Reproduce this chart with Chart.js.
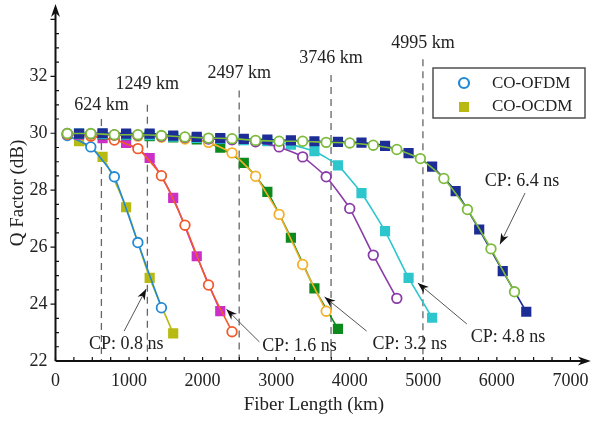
<!DOCTYPE html>
<html>
<head>
<meta charset="utf-8">
<script src="https://cdn.jsdelivr.net/npm/chart.js@4.4.0/dist/chart.umd.min.js"></script>
<style>
body{margin:0;background:#fff;}
#wrap{width:596px;height:421px;}
</style>
</head>
<body>
<div id="wrap"><canvas id="qChart" width="596" height="421"></canvas></div>
<script>
// fiber length of each measured point (km)
var xOfdm=[160,480,800,1120,1440,1760,2080,2400,2720,3040,3360,3680,4000,4320,4640,4960,5280,5600,5920,6240];
var xOcdm=[320,640,960,1280,1600,1920,2240,2560,2880,3200,3520,3840,4160,4480,4800,5120,5440,5760,6080,6400];

// Q factor (dB) per cyclic prefix
var ofdm08=[29.92,29.52,28.47,26.16,23.87];
var ocdm08=[29.72,29.17,27.40,24.92,22.97];
var ofdm16=[29.96,29.90,29.76,29.46,28.51,26.77,24.67,23.03];
var ocdm16=[29.95,29.83,29.66,29.13,27.73,25.68,23.75];
var ofdm32=[29.98,29.96,29.93,29.90,29.86,29.80,29.68,29.31,28.49,27.15,25.39,23.75];
var ocdm32=[29.98,29.96,29.93,29.90,29.85,29.78,29.49,28.96,27.94,26.33,24.55,23.13];
var ofdm48=[29.99,29.98,29.94,29.93,29.90,29.85,29.80,29.77,29.70,29.52,29.17,28.47,27.36,25.72,24.20];
var ocdm48=[29.99,29.98,29.95,29.93,29.88,29.84,29.80,29.76,29.72,29.60,29.37,28.87,27.90,26.56,24.92,23.52];
var ofdm64=[29.99,29.99,29.95,29.95,29.92,29.87,29.83,29.81,29.75,29.72,29.72,29.68,29.66,29.58,29.43,29.11,28.41,27.32,25.94,24.43];
var ocdm64=[29.99,30.00,29.99,29.99,29.92,29.87,29.83,29.80,29.78,29.75,29.72,29.70,29.67,29.56,29.30,28.83,27.97,26.62,25.16,23.73];

var xTicks=[0,1000,2000,3000,4000,5000,6000,7000];
var yTicks=[22,24,26,28,30,32];

// reach marks
var reachKm=[624,1249,2497,3746,4995];
var reachText=["624 km","1249 km","2497 km","3746 km","4995 km"];
var reachTextQ=[31.0,31.72,32.1,32.63,33.16];
var reachTopQ=[30.5,31.0,31.5,32.05,32.6];

// CP callouts
var cpText=["CP: 0.8 ns","CP: 1.6 ns","CP: 3.2 ns","CP: 4.8 ns","CP: 6.4 ns"];
var cpTextKm=[961,3317,4816,6151,6342];
var cpTextQ=[22.6,22.53,22.6,22.84,28.32];
var cpTailKm=[933,2772,4230,5592,6383];
var cpTailQ=[23.05,22.67,23.05,23.3,27.9];
var cpHeadKm=[1233,2323,3658,4926,6042];
var cpHeadQ=[24.53,23.82,24.25,24.74,26.1];

var serif="'Liberation Serif', 'DejaVu Serif', serif";

function makeSet(label,xs,ys,color,isCircle,order){
    var pts=ys.map(function(q,i){return {x:xs[i],y:q};});
    return {
        label:label,
        data:pts,
        borderColor:color,
        borderWidth:1.6,
        tension:0.15,
        fill:false,
        order:order,
        pointStyle:isCircle?"circle":"rect",
        pointRadius:isCircle?4.8:7.2,
        pointBorderWidth:isCircle?1.8:0,
        pointBorderColor:color,
        pointBackgroundColor:isCircle?"#fff":color
    };
}

var datasets=[
    makeSet("CO-OFDM 6.4",xOfdm,ofdm64,"#7dbb3c",true,0),
    makeSet("CO-OCDM 6.4",xOcdm,ocdm64,"#1c2e96",false,1),
    makeSet("CO-OFDM 4.8",xOfdm,ofdm48,"#8a3ca8",true,2),
    makeSet("CO-OCDM 4.8",xOcdm,ocdm48,"#2cc6cc",false,3),
    makeSet("CO-OFDM 3.2",xOfdm,ofdm32,"#f4b02a",true,4),
    makeSet("CO-OCDM 3.2",xOcdm,ocdm32,"#0d8a1c",false,5),
    makeSet("CO-OFDM 1.6",xOfdm,ofdm16,"#f05a2a",true,6),
    makeSet("CO-OCDM 1.6",xOcdm,ocdm16,"#cc2ec8",false,7),
    makeSet("CO-OFDM 0.8",xOfdm,ofdm08,"#2289d6",true,8),
    makeSet("CO-OCDM 0.8",xOcdm,ocdm08,"#b8ba12",false,9)
];

function arrowHead(ctx,x1,y1,x2,y2,len,wid){
    var a=Math.atan2(y2-y1,x2-x1);
    ctx.save();
    ctx.translate(x2,y2);
    ctx.rotate(a);
    ctx.beginPath();
    ctx.moveTo(0,0);
    ctx.lineTo(-len,-wid/2);
    ctx.lineTo(-len*0.7,0);
    ctx.lineTo(-len,wid/2);
    ctx.closePath();
    ctx.fill();
    ctx.restore();
}

var decor={
    id:"decor",
    beforeDatasetsDraw:function(chart){
        var ctx=chart.ctx, xs=chart.scales.x, ys=chart.scales.y;
        var bottom=chart.chartArea.bottom;
        ctx.save();
        ctx.strokeStyle="#666";
        ctx.lineWidth=1.3;
        ctx.setLineDash([7,5]);
        reachKm.forEach(function(km,i){
            var px=xs.getPixelForValue(km);
            ctx.beginPath();
            ctx.moveTo(px,ys.getPixelForValue(reachTopQ[i]));
            ctx.lineTo(px,bottom);
            ctx.stroke();
        });
        ctx.restore();
    },
    afterDraw:function(chart){
        var ctx=chart.ctx, xs=chart.scales.x, ys=chart.scales.y;
        var a=chart.chartArea;
        ctx.save();
        // axes with arrows
        ctx.strokeStyle="#111";
        ctx.fillStyle="#111";
        ctx.lineWidth=2;
        ctx.beginPath();
        ctx.moveTo(a.left,a.bottom);
        ctx.lineTo(a.right-4,a.bottom);
        ctx.moveTo(a.left,a.bottom);
        ctx.lineTo(a.left,a.top);
        ctx.stroke();
        arrowHead(ctx,a.left,a.bottom,a.right+2,a.bottom,13,9);
        arrowHead(ctx,a.left,a.bottom,a.left,a.top-4,13,9);

        // minor / major ticks
        ctx.lineWidth=1.2;
        ctx.beginPath();
        for(var v=0;v<=7000;v+=250){
            var px=xs.getPixelForValue(v);
            ctx.moveTo(px,a.bottom);
            ctx.lineTo(px,a.bottom-4);
        }
        for(var q=22.5;q<=34;q+=0.5){
            var py=ys.getPixelForValue(q);
            if(q%2===0){
                ctx.moveTo(a.left,py);
                ctx.lineTo(a.left-5,py);
            }else{
                ctx.moveTo(a.left,py);
                ctx.lineTo(a.left+3.5,py);
            }
        }
        ctx.stroke();

        // axis titles
        ctx.fillStyle="#222";
        ctx.font="19px "+serif;
        ctx.textAlign="center";
        ctx.textBaseline="middle";
        ctx.fillText("Fiber Length (km)",(a.left+xs.getPixelForValue(7000))/2+1,405);
        ctx.save();
        ctx.translate(18,193);
        ctx.rotate(-Math.PI/2);
        ctx.fillText("Q Factor (dB)",0,0);
        ctx.restore();

        // reach labels
        ctx.font="18px "+serif;
        reachKm.forEach(function(km,i){
            ctx.fillText(reachText[i],xs.getPixelForValue(km),ys.getPixelForValue(reachTextQ[i]));
        });

        // CP callouts
        cpText.forEach(function(t,i){
            var tx=xs.getPixelForValue(cpTailKm[i]), ty=ys.getPixelForValue(cpTailQ[i]);
            var hx=xs.getPixelForValue(cpHeadKm[i]), hy=ys.getPixelForValue(cpHeadQ[i]);
            ctx.strokeStyle="#555";
            ctx.lineWidth=1;
            ctx.beginPath();
            ctx.moveTo(tx,ty);
            ctx.lineTo(hx,hy);
            ctx.stroke();
            ctx.fillStyle="#111";
            arrowHead(ctx,tx,ty,hx,hy,11,8);
            ctx.fillStyle="#222";
            ctx.fillText(t,xs.getPixelForValue(cpTextKm[i]),ys.getPixelForValue(cpTextQ[i]));
        });

        // legend box
        ctx.strokeStyle="#444";
        ctx.lineWidth=1.4;
        ctx.strokeRect(433,68,152,50);
        ctx.lineWidth=2.2;
        ctx.strokeStyle="#2289d6";
        ctx.beginPath();
        ctx.arc(464,83,5,0,Math.PI*2);
        ctx.stroke();
        ctx.fillStyle="#b8ba12";
        ctx.fillRect(459,102,10,10);
        ctx.fillStyle="#222";
        ctx.font="17px "+serif;
        ctx.textAlign="left";
        ctx.fillText("CO-OFDM",492,84);
        ctx.fillText("CO-OCDM",492,107);
        ctx.restore();
    }
};

var ctx=document.getElementById("qChart").getContext("2d");
var qChart=new Chart(ctx,{
    type:"line",
    data:{datasets:datasets},
    options:{
        responsive:false,
        animation:false,
        layout:{padding:{left:0,right:6,top:8,bottom:0}},
        plugins:{legend:{display:false},tooltip:{enabled:false}},
        scales:{
            x:{
                type:"linear",
                min:0,
                max:7250,
                afterBuildTicks:function(s){s.ticks=xTicks.map(function(v){return {value:v};});},
                afterFit:function(s){s.height=60;s.paddingLeft=0;s.paddingRight=0;},
                grid:{display:false,drawTicks:false},
                border:{display:false},
                ticks:{padding:9,color:"#222",font:{family:serif,size:18},callback:function(v){return String(v);}}
            },
            y:{
                type:"linear",
                min:22,
                max:34.4,
                afterBuildTicks:function(s){s.ticks=yTicks.map(function(v){return {value:v};});},
                afterFit:function(s){s.width=55.5;s.paddingTop=0;s.paddingBottom=0;},
                grid:{display:false,drawTicks:false},
                border:{display:false},
                ticks:{padding:8,color:"#222",font:{family:serif,size:18},callback:function(v){return String(v);}}
            }
        }
    },
    plugins:[decor]
});
</script>
</body>
</html>
